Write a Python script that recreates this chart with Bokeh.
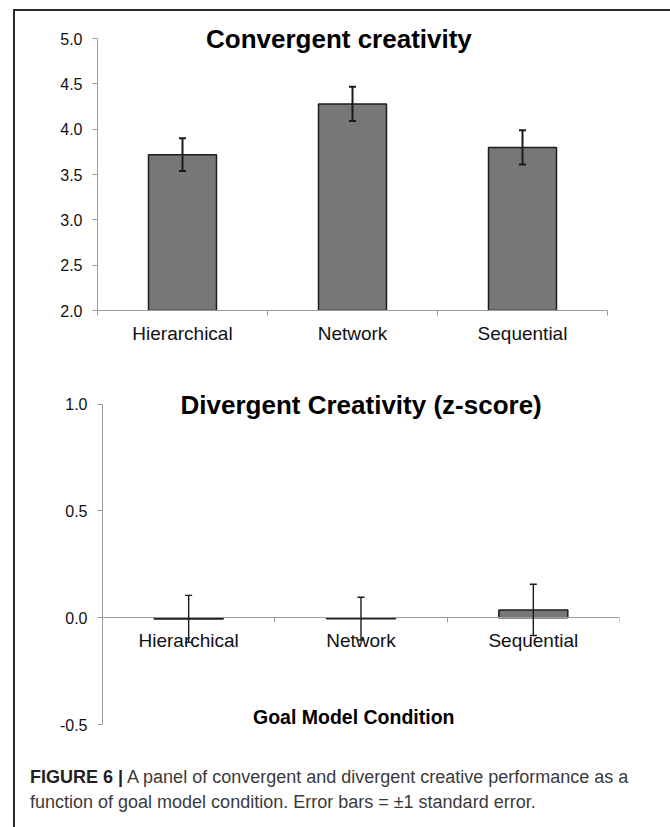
from bokeh.plotting import figure
from bokeh.layouts import column
from bokeh.models import (ColumnDataSource, FixedTicker, Range1d, Whisker, TeeHead,
                          Label, Div, NumeralTickFormatter)
from bokeh.embed import file_html
from bokeh.resources import INLINE

# Goal model conditions
categories = ["Hierarchical", "Network", "Sequential"]

# Convergent creativity: mean and standard error per condition
convergent_mean = [3.72, 4.28, 3.80]
convergent_se = [0.18, 0.19, 0.19]

# Divergent creativity (z-score): mean and standard error per condition
divergent_mean = [-0.005, -0.004, 0.037]
divergent_se = [0.11, 0.10, 0.12]

convergent_ticks = [2.0, 2.5, 3.0, 3.5, 4.0, 4.5, 5.0]
divergent_ticks = [-0.5, 0.0, 0.5, 1.0]

FONT = "Liberation Sans"
AXIS_GREY = "#9c9c9c"
BAR_FILL = "#777777"
BAR_LINE = "#1e1e1e"


def make_panel(means, ses, y_view, y_ticks, width, height, borders, err_width):
    n = len(categories)
    centers = [i + 0.5 for i in range(n)]
    src = ColumnDataSource(dict(
        x=centers,
        top=means,
        upper=[m + s for m, s in zip(means, ses)],
        lower=[m - s for m, s in zip(means, ses)],
    ))
    top_b, right_b, bottom_b, left_b = borders
    p = figure(width=width, height=height, output_backend="svg", toolbar_location=None,
               x_range=Range1d(0, n), y_range=Range1d(*y_view),
               min_border_top=top_b, min_border_right=right_b,
               min_border_bottom=bottom_b, min_border_left=left_b,
               frame_align=False)
    p.outline_line_color = None
    p.grid.visible = False
    p.background_fill_color = "white"
    p.border_fill_color = "white"

    p.vbar(x="x", top="top", bottom=0, width=0.4, source=src,
           fill_color=BAR_FILL, line_color=BAR_LINE, line_width=1.5)

    head = dict(size=7, line_color="#1a1a1a", line_width=err_width)
    p.add_layout(Whisker(base="x", upper="upper", lower="lower", source=src,
                         line_color="#1a1a1a", line_width=err_width,
                         upper_head=TeeHead(**head), lower_head=TeeHead(**head),
                         level="annotation"))

    # category axis: labels at bar centres, tick marks on the category boundaries
    xa = p.xaxis[0]
    xa.ticker = FixedTicker(ticks=centers, minor_ticks=list(range(n + 1)))
    xa.major_label_overrides = {c: lab for c, lab in zip(centers, categories)}
    xa.major_tick_out = 0
    xa.major_tick_in = 0
    xa.minor_tick_out = 5
    xa.minor_tick_in = 0
    xa.minor_tick_line_color = AXIS_GREY
    xa.axis_line_color = AXIS_GREY
    xa.major_label_text_font = FONT
    xa.major_label_text_font_size = "19px"
    xa.major_label_text_color = "#111111"
    xa.major_label_standoff = 7

    # value axis drawn only over the tick span; the view runs a little past it
    ya = p.yaxis[0]
    ya.ticker = FixedTicker(ticks=y_ticks, minor_ticks=[])
    ya.bounds = (min(y_ticks), max(y_ticks))
    ya.formatter = NumeralTickFormatter(format="0.0")
    ya.major_tick_out = 5
    ya.major_tick_in = 0
    ya.major_tick_line_color = AXIS_GREY
    ya.axis_line_color = AXIS_GREY
    ya.major_label_text_font = FONT
    ya.major_label_text_font_size = "16px"
    ya.major_label_text_color = "#111111"
    ya.major_label_standoff = 10
    return p


p1 = make_panel(convergent_mean, convergent_se, (2.0, 5.2), convergent_ticks,
                655, 344, (9, 63, 45, 82), 2)
p1.add_layout(Label(x=1.42, y=5.0, text="Convergent creativity",
                    text_align="center", text_baseline="alphabetic",
                    text_font=FONT, text_font_size="26px", text_font_style="bold",
                    text_color="#000000"))

p2 = make_panel(divergent_mean, divergent_se, (-0.56, 1.12), divergent_ticks,
                655, 405, (23, 51, 23, 87), 1.4)
p2.xaxis[0].fixed_location = 0
p2.add_layout(Label(x=1.501, y=0.997, text="Divergent Creativity (z-score)",
                    text_align="center", text_baseline="alphabetic",
                    text_font=FONT, text_font_size="26px", text_font_style="bold",
                    text_color="#000000"))
p2.add_layout(Label(x=1.458, y=-0.466, text="Goal Model Condition",
                    text_align="center", text_baseline="alphabetic",
                    text_font=FONT, text_font_size="19.5px", text_font_style="bold",
                    text_color="#000000"))

caption = Div(
    text=('<div style="padding-left:10px; font-family:\'Liberation Sans\';'
          ' font-size:18px; line-height:25px; color:#3a3a3a;">'
          '<b style="color:#222222;">FIGURE 6 |</b> A panel of convergent and divergent '
          'creative performance as a<br>'
          'function of goal model condition. Error bars = \u00b11 standard error.</div>'),
    width=655, height=67,
)

page = column(p1, p2, caption, margin=(9, 0, 0, 13),
              styles={"border-top": "2px solid #2a2a2a", "border-left": "2px solid #2a2a2a",
                      "background": "white"})

open("out.html", "w").write(file_html(page, INLINE))
